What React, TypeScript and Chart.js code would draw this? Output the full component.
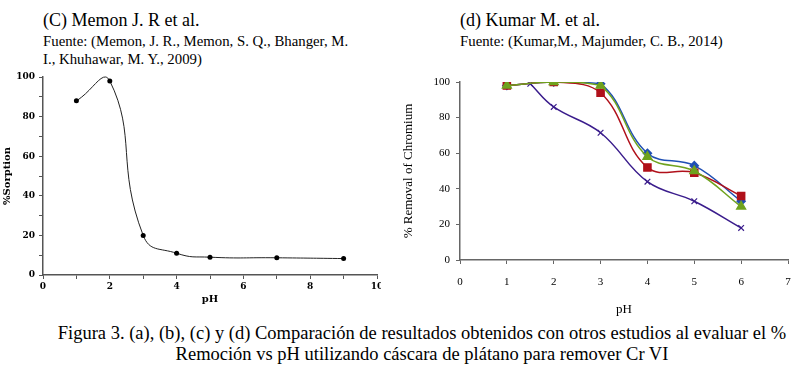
import React, { useEffect, useRef } from "react";
import { Chart, registerables } from "chart.js";
Chart.register(...registerables);

// (C) Memon J. R et al. — % Sorption vs pH
const memonPH = [1, 2, 3, 4, 5, 7, 9];
const memonSorption = [88, 98, 20, 11, 9, 8.7, 8.3];

// (d) Kumar M. et al. — % Removal of Chromium vs pH
const kumarPH = [1, 2, 3, 4, 5, 6];
const kumarBlue = [98, 100, 99, 60, 53, 33];
const kumarRed = [98, 100, 94, 52, 49, 36];
const kumarGreen = [98, 100, 98, 58, 50, 30];
const kumarPurplePH = [1.5, 2, 3, 4, 5, 6];
const kumarPurple = [99, 86, 71.5, 44, 33, 18];

const memonTicksX = [0, 2, 4, 6, 8, 10];
const memonTicksY = [0, 20, 40, 60, 80, 100];

const SERIF = "'Liberation Serif', 'Times New Roman', serif";
const BOLDSERIF = "'DejaVu Serif', serif";

function pts(xs: number[], ys: number[]) {
  return xs.map((x, i) => ({ x, y: ys[i] }));
}

function LeftChart() {
  const ref = useRef<HTMLCanvasElement>(null);
  useEffect(() => {
    if (!ref.current) return;
    const tickFont = { family: BOLDSERIF, weight: "bold" as const, size: 9 };
    const chart = new Chart(ref.current, {
      type: "scatter",
      data: {
        datasets: [
          {
            data: pts(memonPH, memonSorption),
            showLine: true,
            borderColor: "#222",
            borderWidth: 1,
            tension: 0.5,
            capBezierPoints: false,
            pointRadius: 2.5,
            pointBackgroundColor: "#000",
            pointBorderWidth: 0,
            clip: 6,
          },
        ],
      },
      options: {
        animation: false,
        responsive: false,
        elements: { line: { capBezierPoints: false } },
        layout: { padding: { top: 11, right: 3, left: 0, bottom: 0 } },
        plugins: { legend: { display: false }, tooltip: { enabled: false } },
        scales: {
          x: {
            type: "linear",
            min: 0,
            max: 10,
            ticks: {
              stepSize: 1,
              autoSkip: false,
              maxRotation: 0,
              callback: (v: any) => (memonTicksX.includes(Number(v)) ? String(v) : ""),
              font: tickFont,
              color: "#000",
              padding: 2,
            },
            grid: { drawOnChartArea: false, drawTicks: true, tickLength: 4, color: "#555" },
            border: { color: "#555", width: 1.5 },
            title: { display: true, text: "pH", color: "#000", font: { family: BOLDSERIF, weight: "bold", size: 10 }, padding: { top: 0, bottom: 1 } },
            afterFit: (s: any) => {
              s.height = 31;
              s.paddingLeft = 0;
              s.paddingRight = 0;
            },
          },
          y: {
            type: "linear",
            min: 0,
            max: 100,
            ticks: {
              stepSize: 10,
              autoSkip: false,
              callback: (v: any) => (memonTicksY.includes(Number(v)) ? String(v) : ""),
              font: tickFont,
              color: "#000",
              padding: 4,
            },
            grid: { drawOnChartArea: false, drawTicks: true, tickLength: 4, color: "#555" },
            border: { color: "#555", width: 1.5 },
            title: { display: true, text: "%Sorption", color: "#000", font: { family: BOLDSERIF, weight: "bold", size: 10 }, padding: { top: 1, bottom: 0 } },
            afterFit: (s: any) => {
              s.width = 43;
              s.paddingTop = 0;
              s.paddingBottom = 0;
            },
          },
        },
      },
    } as any);
    return () => chart.destroy();
  }, []);
  return (
    <canvas
      ref={ref}
      width={381}
      height={240}
      style={{ position: "absolute", left: 0, top: 66, width: 381, height: 240, display: "block" }}
    />
  );
}

function RightChart() {
  const ref = useRef<HTMLCanvasElement>(null);
  useEffect(() => {
    if (!ref.current) return;
    const tickFont = { family: SERIF, size: 11 };
    const common = { showLine: true, borderWidth: 1.5, tension: 0.4, fill: false };
    const chart = new Chart(ref.current, {
      type: "scatter",
      data: {
        datasets: [
          {
            ...common,
            data: pts(kumarPH, kumarBlue),
            borderColor: "#1f4fb4",
            backgroundColor: "#1f4fb4",
            pointStyle: "rectRot",
            pointRadius: 4,
            order: 2,
          },
          {
            ...common,
            data: pts(kumarPH, kumarRed),
            borderColor: "#b0101a",
            backgroundColor: "#b0101a",
            pointStyle: "rect",
            pointRadius: 5,
            order: 1,
          },
          {
            ...common,
            data: pts(kumarPH, kumarGreen),
            borderColor: "#6fa21e",
            backgroundColor: "#6fa21e",
            pointStyle: "triangle",
            pointRadius: 5,
            order: 0,
          },
          {
            ...common,
            data: pts(kumarPurplePH, kumarPurple),
            borderColor: "#3a1c8c",
            backgroundColor: "#3a1c8c",
            pointStyle: "crossRot",
            pointRadius: 4,
            pointBorderWidth: 1.2,
            order: 3,
          },
        ],
      },
      options: {
        animation: false,
        responsive: false,
        layout: { padding: { top: 12, right: 12, left: 0, bottom: 0 } },
        plugins: { legend: { display: false }, tooltip: { enabled: false } },
        scales: {
          x: {
            type: "linear",
            min: 0,
            max: 7,
            ticks: { stepSize: 1, autoSkip: false, maxRotation: 0, font: tickFont, color: "#000", padding: 12 },
            grid: { drawOnChartArea: false, drawTicks: true, tickLength: 4, color: "#666" },
            border: { color: "#666", width: 1.5 },
            title: { display: true, text: "pH", color: "#000", font: { family: SERIF, size: 13 }, padding: { top: 0, bottom: 3 } },
            afterFit: (s: any) => {
              s.height = 60;
              s.paddingLeft = 0;
              s.paddingRight = 0;
            },
          },
          y: {
            type: "linear",
            min: 0,
            max: 100,
            ticks: { stepSize: 20, autoSkip: false, font: tickFont, color: "#000", padding: 6 },
            grid: { drawOnChartArea: false, drawTicks: true, tickLength: 4, color: "#666" },
            border: { color: "#666", width: 1.5 },
            title: { display: true, text: "% Removal of Chromium", color: "#000", font: { family: SERIF, size: 13 }, padding: { top: 6, bottom: 0 } },
            afterFit: (s: any) => {
              s.width = 65;
              s.paddingTop = 0;
              s.paddingBottom = 0;
            },
          },
        },
      },
    } as any);
    return () => chart.destroy();
  }, []);
  return (
    <canvas
      ref={ref}
      width={405}
      height={250}
      style={{ position: "absolute", left: 395, top: 70, width: 405, height: 250, display: "block" }}
    />
  );
}

const txt = (extra: React.CSSProperties): React.CSSProperties => ({
  position: "absolute",
  fontFamily: SERIF,
  color: "#000",
  whiteSpace: "nowrap",
  margin: 0,
  ...extra,
});

export default function App() {
  return (
    <div style={{ position: "absolute", left: 0, top: 0, width: 812, height: 380, background: "#fff", overflow: "hidden" }}>
      <div style={txt({ left: 43, top: 11, fontSize: 18, lineHeight: "18px" })}>(C) Memon J. R et al.</div>
      <div style={txt({ left: 43, top: 31.5, fontSize: 14.8, lineHeight: "18px" })}>
        Fuente: (Memon, J. R., Memon, S. Q., Bhanger, M.
        <br />
        I., Khuhawar, M. Y., 2009)
      </div>
      <div style={txt({ left: 460, top: 11, fontSize: 18, lineHeight: "18px" })}>(d) Kumar M. et al.</div>
      <div style={txt({ left: 460, top: 31.5, fontSize: 14.8, lineHeight: "18px" })}>Fuente: (Kumar,M., Majumder, C. B., 2014)</div>
      <LeftChart />
      <RightChart />
      <div style={txt({ left: 22, width: 800, top: 322.5, fontSize: 18.5, lineHeight: "21px", textAlign: "center" })}>
        Figura 3. (a), (b), (c) y (d) Comparación de resultados obtenidos con otros estudios al evaluar el %
        <br />
        Remoción vs pH utilizando cáscara de plátano para remover Cr VI
      </div>
    </div>
  );
}
